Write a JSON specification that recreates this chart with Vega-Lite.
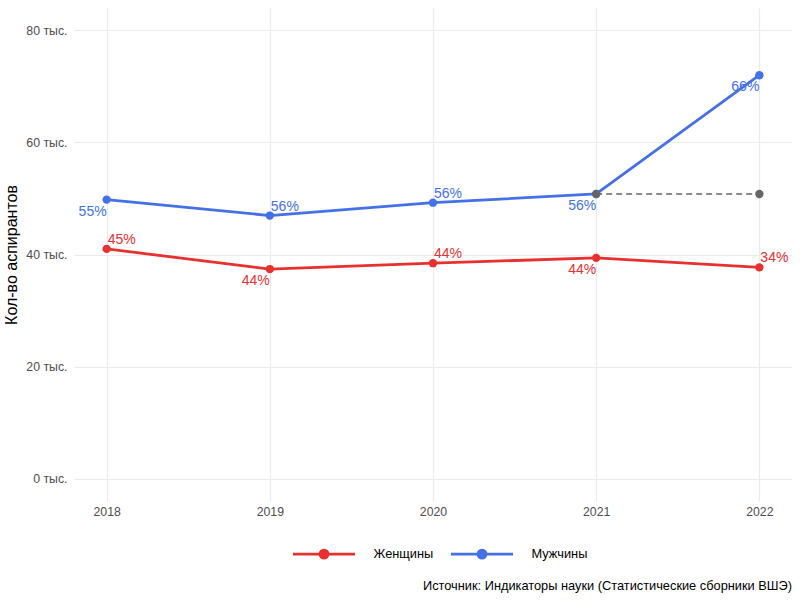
{
  "$schema": "https://vega.github.io/schema/vega-lite/v6.json",
  "width": 718,
  "height": 493,
  "autosize": {"type": "none"},
  "padding": {"left": 74, "top": 8, "right": 8, "bottom": 99},
  "background": "white",
  "config": {
    "font": "Liberation Sans",
    "view": {"stroke": null},
    "axis": {"gridColor": "#ebebeb", "gridWidth": 1.2, "domain": false, "ticks": false, "labelColor": "#4d4d4d", "labelFontSize": 12.3, "labelFont": "Liberation Sans", "titleFont": "Liberation Sans"}
  },
  "title": {
    "text": "Источник: Индикаторы науки (Статистические сборники ВШЭ)",
    "orient": "bottom",
    "anchor": "end",
    "fontSize": 12.8,
    "fontWeight": "normal",
    "color": "black",
    "font": "Liberation Sans",
    "offset": 16
  },
  "datasets": {
    "main": [
      {"year": 2018, "group": "Женщины", "value": 41.0, "share": "45%"},
      {"year": 2019, "group": "Женщины", "value": 37.4, "share": "44%"},
      {"year": 2020, "group": "Женщины", "value": 38.45, "share": "44%"},
      {"year": 2021, "group": "Женщины", "value": 39.4, "share": "44%"},
      {"year": 2022, "group": "Женщины", "value": 37.7, "share": "34%"},
      {"year": 2018, "group": "Мужчины", "value": 49.8, "share": "55%"},
      {"year": 2019, "group": "Мужчины", "value": 46.95, "share": "56%"},
      {"year": 2020, "group": "Мужчины", "value": 49.25, "share": "56%"},
      {"year": 2021, "group": "Мужчины", "value": 50.8, "share": "56%"},
      {"year": 2022, "group": "Мужчины", "value": 72.0, "share": "66%"}
    ],
    "baseline": [
      {"year": 2021, "value": 50.8},
      {"year": 2022, "value": 50.8}
    ]
  },
  "encoding": {
    "x": {
      "field": "year", "type": "quantitative",
      "scale": {"domain": [2017.8, 2022.2], "nice": false, "zero": false},
      "axis": {"values": [2018, 2019, 2020, 2021, 2022], "format": "d", "title": null, "labelPadding": 4}
    },
    "y": {
      "field": "value", "type": "quantitative",
      "scale": {"domain": [-4, 84], "nice": false, "zero": false},
      "axis": {"values": [0, 20, 40, 60, 80], "labelExpr": "datum.value + ' тыс.'", "title": "Кол-во аспирантов", "titleFontSize": 16, "titleFontWeight": "normal", "titleColor": "black", "titlePadding": 6, "labelPadding": 7}
    }
  },
  "layer": [
    {
      "data": {"name": "main"},
      "mark": {"type": "line", "strokeWidth": 2.8},
      "encoding": {
        "color": {
          "field": "group", "type": "nominal",
          "scale": {"domain": ["Женщины", "Мужчины"], "range": ["#E8302F", "#4470E8"]},
          "legend": {
            "title": null,
            "orient": "none",
            "direction": "horizontal",
            "legendX": 233,
            "legendY": 529,
            "padding": 0,
            "symbolType": "M-2,0L2,0M0.26,0A0.26,0.26,0,1,1,-0.26,0A0.26,0.26,0,1,1,0.26,0Z",
            "symbolSize": 961,
            "symbolStrokeWidth": 2.8,
            "labelFontSize": 12.8,
            "labelColor": "black",
            "labelOffset": 32.5,
            "columnPadding": 11,
            "labelFont": "Liberation Sans"
          }
        }
      }
    },
    {
      "data": {"name": "main"},
      "mark": {"type": "point", "filled": true, "opacity": 1, "size": 70},
      "encoding": {"color": {"field": "group", "type": "nominal"}}
    },
    {
      "data": {"name": "baseline"},
      "mark": {"type": "line", "color": "#666666", "strokeWidth": 1.5, "strokeDash": [6, 4]},
      "encoding": {}
    },
    {
      "data": {"name": "baseline"},
      "mark": {"type": "point", "filled": true, "opacity": 1, "size": 70, "color": "#666666"},
      "encoding": {}
    },
    {
      "data": {"name": "main"},
      "transform": [{"filter": "(datum.group == 'Мужчины' && (datum.year == 2019 || datum.year == 2020)) || (datum.group == 'Женщины' && (datum.year == 2018 || datum.year == 2020 || datum.year == 2022))"}],
      "mark": {"type": "text", "align": "left", "baseline": "bottom", "dx": 1, "dy": -2, "fontSize": 14, "font": "Liberation Sans"},
      "encoding": {"text": {"field": "share"}, "color": {"field": "group", "type": "nominal"}}
    },
    {
      "data": {"name": "main"},
      "transform": [{"filter": "(datum.group == 'Мужчины' && (datum.year == 2018 || datum.year == 2021 || datum.year == 2022)) || (datum.group == 'Женщины' && (datum.year == 2019 || datum.year == 2021))"}],
      "mark": {"type": "text", "align": "right", "baseline": "top", "dx": 0, "dy": 5, "fontSize": 14, "font": "Liberation Sans"},
      "encoding": {"text": {"field": "share"}, "color": {"field": "group", "type": "nominal"}}
    }
  ]
}
